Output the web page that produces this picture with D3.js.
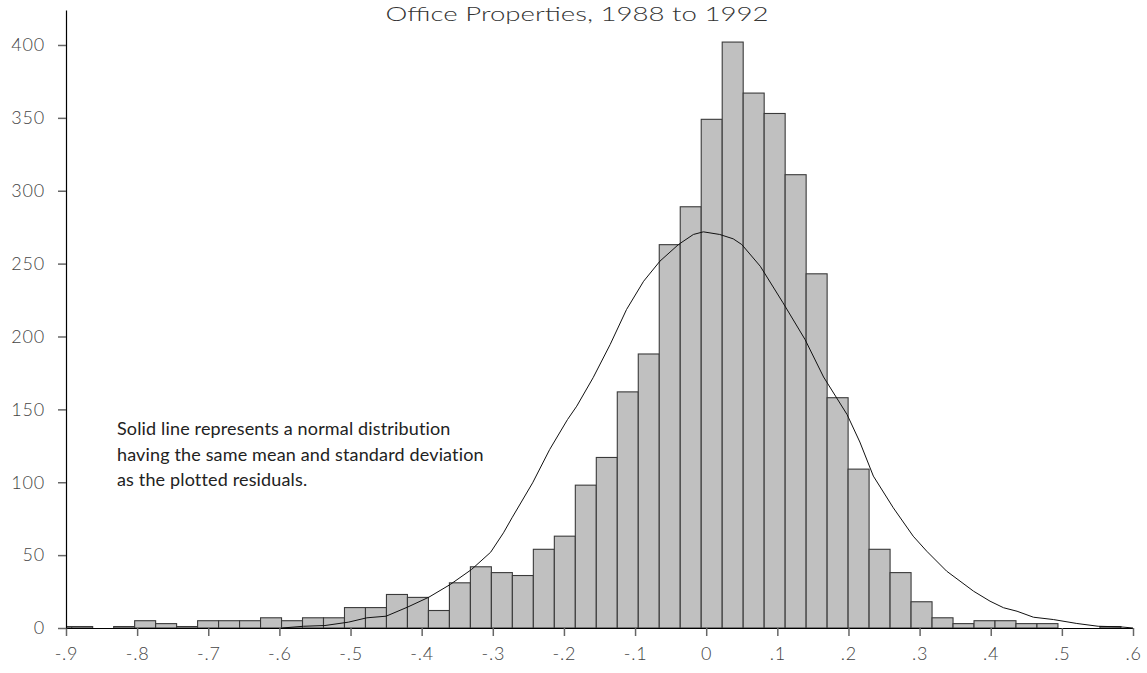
<!DOCTYPE html>
<html>
<head>
<meta charset="utf-8">
<script src="https://cdn.jsdelivr.net/npm/d3@7"></script>
<style>
  body { margin: 0; background: #fff; }
  svg text { font-family: "Lato", "Open Sans", sans-serif; }
</style>
</head>
<body>
<svg id="chart" width="1147" height="673"></svg>
<script>
// histogram of residuals
const title = "Office Properties, 1988 to 1992";
const noteLines = [
    "Solid line represents a normal distribution",
    "having the same mean and standard deviation",
    "as the plotted residuals."
];
const binStart = -0.9215;
const binWidth = 0.0295;
const counts = [1, 1, 0, 1, 5, 3, 1, 5, 5, 5, 7, 5, 7, 7, 14, 14, 23, 21, 12, 31,
    42, 38, 36, 54, 63, 98, 117, 162, 188, 263, 289, 349, 402, 367, 353, 311, 243,
    158, 109, 54, 38, 18, 7, 3, 5, 5, 3, 3, 0, 0, 1];

// normal curve
const normX = [-0.596, -0.566, -0.536, -0.503, -0.477, -0.450, -0.420, -0.390, -0.360,
    -0.330, -0.303, -0.285, -0.273, -0.244, -0.220, -0.195, -0.182, -0.159, -0.135,
    -0.112, -0.088, -0.065, -0.039, -0.018, -0.004, 0.019, 0.038, 0.050, 0.076, 0.108,
    0.139, 0.165, 0.198, 0.216, 0.235, 0.263, 0.291, 0.310, 0.338, 0.376, 0.399, 0.418,
    0.437, 0.460, 0.488, 0.521, 0.551, 0.582, 0.600];
const normY = [0, 1.2, 1.7, 4.0, 7.0, 8.1, 14.3, 21.1, 29.8,
    40.1, 52.0, 65.3, 75.6, 99.6, 122.5, 143, 152.2, 171.7, 194.5,
    218.5, 237.9, 251.7, 263.1, 270.0, 271.8, 270.0, 267.0, 263.1, 248.2, 223.1,
    197.9, 172.2, 146.5, 127.6, 104.2, 82.5, 63.0, 52.7, 39.0, 25.2, 18.4, 13.9,
    11.5, 7.4, 5.8, 3.1, 1.2, 0.8, 0];

const xTicks = [-0.9, -0.8, -0.7, -0.6, -0.5, -0.4, -0.3, -0.2, -0.1, 0, 0.1, 0.2, 0.3, 0.4, 0.5, 0.6];
const xTickLabels = ["-.9", "-.8", "-.7", "-.6", "-.5", "-.4", "-.3", "-.2", "-.1", "0", ".1", ".2", ".3", ".4", ".5", ".6"];
const yTicks = [0, 50, 100, 150, 200, 250, 300, 350, 400];

const svg = d3.select("#chart");

const x = d3.scaleLinear().domain([-0.9, 0.6]).range([66, 1133]);
const y = d3.scaleLinear().domain([0, 424]).range([628, 10]);

svg.append("defs").append("clipPath")
    .attr("id", "plot")
    .append("rect")
    .attr("x", x(-0.9)).attr("y", 0)
    .attr("width", x(0.6) - x(-0.9)).attr("height", 673);

// bars
svg.append("g")
    .attr("clip-path", "url(#plot)")
    .selectAll("rect")
    .data(counts)
    .enter().append("rect")
    .attr("x", (d, i) => x(binStart + i * binWidth))
    .attr("width", (d, i) => x(binStart + (i + 1) * binWidth) - x(binStart + i * binWidth))
    .attr("y", d => y(d))
    .attr("height", d => y(0) - y(d))
    .attr("fill", "#c0c0c0")
    .attr("stroke", "#3a3a3a")
    .attr("stroke-width", 1.1);

// normal curve
const line = d3.line()
    .x((d, i) => x(normX[i]))
    .y(d => y(d));

svg.append("path")
    .datum(normY)
    .attr("fill", "none")
    .attr("stroke", "#111")
    .attr("stroke-width", 1)
    .attr("d", line);

// axes
const xAxis = svg.append("g")
    .attr("transform", `translate(0,${y(0)})`)
    .call(d3.axisBottom(x)
        .tickValues(xTicks)
        .tickFormat((d, i) => xTickLabels[i])
        .tickSize(8)
        .tickSizeOuter(0)
        .tickPadding(11));

const yAxis = svg.append("g")
    .attr("transform", `translate(${x(-0.9)},0)`)
    .call(d3.axisLeft(y)
        .tickValues(yTicks)
        .tickSize(8)
        .tickSizeOuter(0)
        .tickPadding(13));

[xAxis, yAxis].forEach(g => {
    g.select(".domain").attr("stroke", "#000").attr("stroke-width", 1.2);
    g.selectAll(".tick line").attr("stroke", "#666").attr("stroke-width", 1.5);
    g.selectAll(".tick text")
        .attr("fill", "#444")
        .style("font-size", "18px")
        .style("font-weight", 300)
        .style("letter-spacing", "0.8px");
});

// note
svg.append("g")
    .selectAll("text")
    .data(noteLines)
    .enter().append("text")
    .attr("x", 117)
    .attr("y", (d, i) => 435 + i * 25.5)
    .attr("fill", "#222")
    .style("font-size", "18px")
    .style("letter-spacing", "0.15px")
    .text(d => d);

// title
svg.append("text")
    .attr("x", 577)
    .attr("y", 21)
    .attr("text-anchor", "middle")
    .attr("fill", "#333")
    .attr("textLength", 383)
    .attr("lengthAdjust", "spacingAndGlyphs")
    .style("font-size", "20px")
    .style("font-weight", 300)
    .text(title);
</script>
</body>
</html>
